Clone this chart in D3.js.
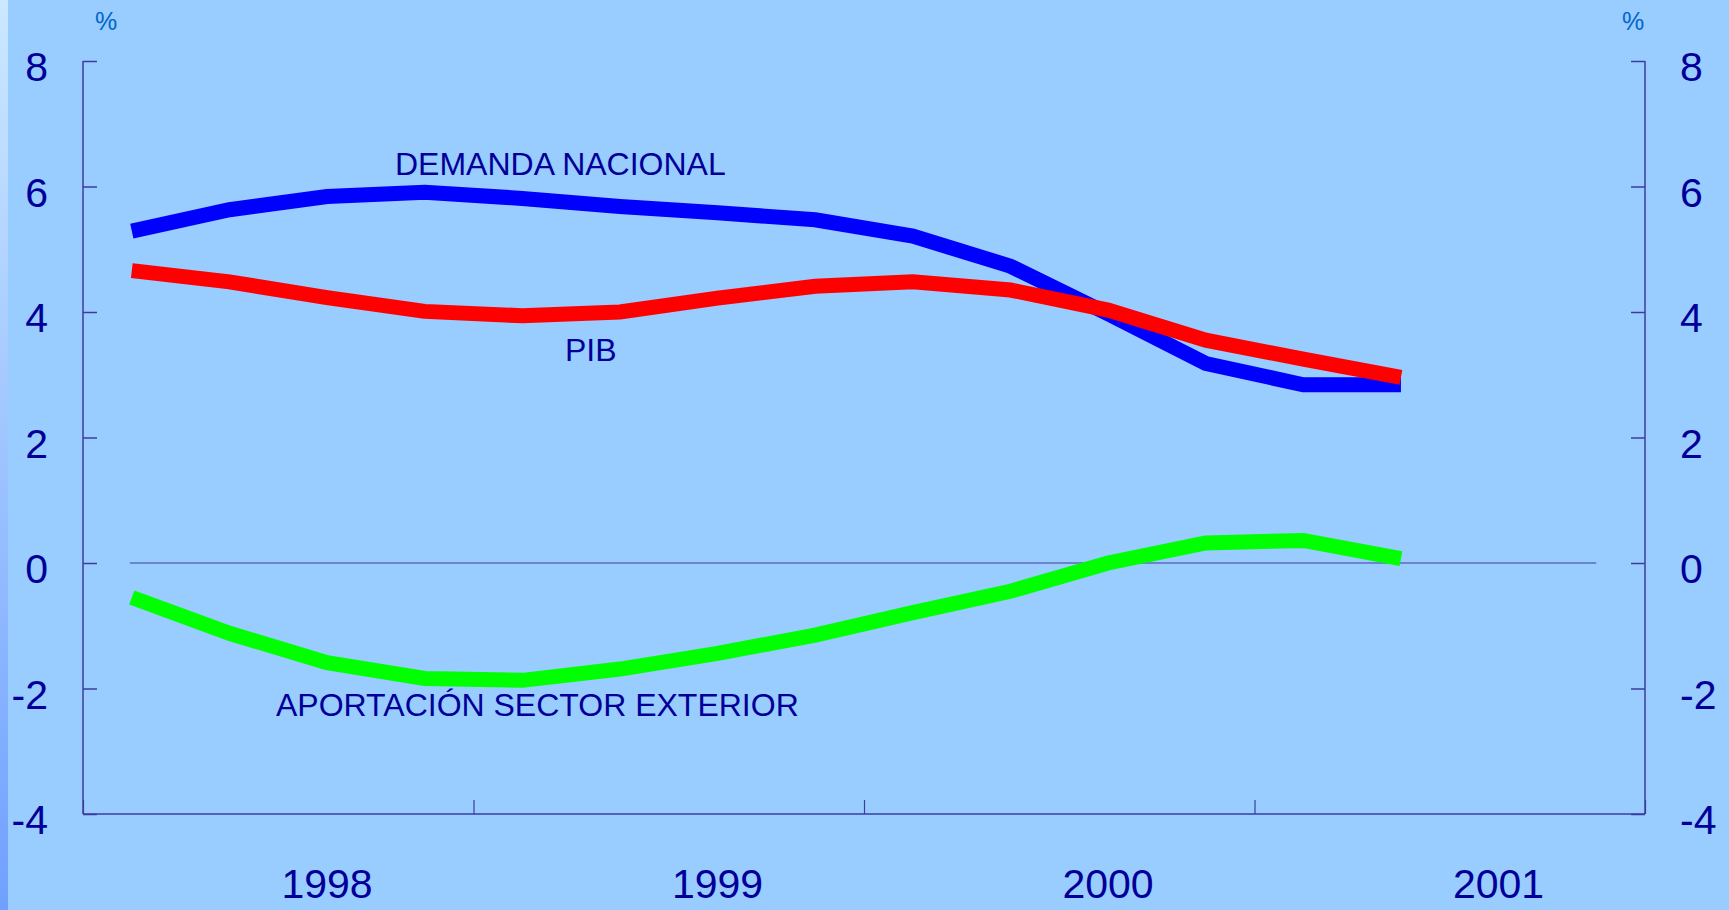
<!DOCTYPE html>
<html>
<head>
<meta charset="utf-8">
<script src="https://cdn.jsdelivr.net/npm/d3@7/dist/d3.min.js"></script>
<style>
    html, body {margin: 0; padding: 0; background: #99ccff; overflow: hidden;}
    svg {display: block;}
</style>
</head>
<body>
<svg id="chart"></svg>
<script>
// quarterly data, 1998 Q1 .. 2001 Q2
const quarters = ["1998-1", "1998-2", "1998-3", "1998-4", "1999-1", "1999-2", "1999-3", "1999-4",
    "2000-1", "2000-2", "2000-3", "2000-4", "2001-1", "2001-2"]
const demandaNacional = [5.29, 5.63, 5.84, 5.91, 5.81, 5.68, 5.58, 5.47, 5.21, 4.73, 3.97, 3.18, 2.84, 2.84]
const pib = [4.66, 4.48, 4.23, 4.01, 3.94, 4.00, 4.22, 4.41, 4.48, 4.35, 4.03, 3.55, 3.25, 2.96]
const sectorExterior = [-0.55, -1.12, -1.59, -1.84, -1.87, -1.69, -1.44, -1.15, -0.79, -0.45, 0.0, 0.32, 0.36, 0.07]
const years = [1998, 1999, 2000, 2001]
const yTicks = [-4, -2, 0, 2, 4, 6, 8]

const width = 1729, height = 910
const margin = ({top: 61, right: 84, bottom: 96, left: 83})
const axisColor = "#3c3ca0"
const textColor = "#000099"
const font = "'Liberation Sans', Arial, sans-serif"

const svg = d3.select("#chart")
    .attr("width", width)
    .attr("height", height)

// light strip on the left edge
const defs = svg.append("defs")
const grad = defs.append("linearGradient")
    .attr("id", "strip").attr("x1", 0).attr("y1", 0).attr("x2", 0).attr("y2", 1)
grad.append("stop").attr("offset", "0%").attr("stop-color", "#cce8ff")
grad.append("stop").attr("offset", "100%").attr("stop-color", "#70a0ff")

svg.append("rect").attr("width", width).attr("height", height).attr("fill", "#99ccff")
svg.append("rect").attr("width", 8).attr("height", height).attr("fill", "url(#strip)")

const x = d3.scaleLinear()
    .domain([1998, 2002])
    .range([margin.left, width - margin.right])
const y = d3.scaleLinear()
    .domain([-4, 8])
    .range([height - margin.bottom, margin.top])

const qx = q => {
    let [yr, n] = q.split("-").map(Number)
    return yr + (n - 0.5) / 4
}

// axes
svg.append("g")
    .attr("transform", `translate(${x(1998)},0)`)
    .call(d3.axisRight(y).tickValues(yTicks).tickSize(14).tickFormat(""))
    .call(g => g.select(".domain").attr("stroke", axisColor).attr("stroke-width", 1.5).attr("d", `M0,${y(8)}V${y(-4)}`))
    .call(g => g.selectAll(".tick line").attr("stroke", axisColor).attr("stroke-width", 1.5))

svg.append("g")
    .attr("transform", `translate(${x(2002)},0)`)
    .call(d3.axisLeft(y).tickValues(yTicks).tickSize(14).tickFormat(""))
    .call(g => g.select(".domain").attr("stroke", axisColor).attr("stroke-width", 1.5).attr("d", `M0,${y(8)}V${y(-4)}`))
    .call(g => g.selectAll(".tick line").attr("stroke", axisColor).attr("stroke-width", 1.5))

svg.append("g")
    .attr("transform", `translate(0,${y(-4)})`)
    .call(d3.axisTop(x).tickValues([1998, 1999, 2000, 2001, 2002]).tickSize(14).tickFormat(""))
    .call(g => g.select(".domain").attr("stroke", axisColor).attr("stroke-width", 1.5).attr("d", `M${x(1998)},0H${x(2002)}`))
    .call(g => g.selectAll(".tick line").attr("stroke", axisColor).attr("stroke-width", 1.2))

// zero line
svg.append("line")
    .attr("x1", x(1998.12)).attr("x2", x(2001.875))
    .attr("y1", y(0)).attr("y2", y(0))
    .attr("stroke", axisColor).attr("stroke-width", 1.2)

// tick labels
const labels = svg.append("g").attr("font-family", font).attr("fill", textColor).attr("font-size", 41)
labels.selectAll(".yl")
    .data(yTicks)
    .join("text")
    .attr("x", 48)
    .attr("y", d => y(d) + 20)
    .attr("text-anchor", "end")
    .text(d => d)
labels.selectAll(".yr")
    .data(yTicks)
    .join("text")
    .attr("x", 1680)
    .attr("y", d => y(d) + 20)
    .attr("text-anchor", "start")
    .text(d => d)
labels.selectAll(".xl")
    .data(years)
    .join("text")
    .attr("x", d => x(d + 0.625))
    .attr("y", 898)
    .attr("text-anchor", "middle")
    .text(d => d)

svg.append("g").attr("font-family", font).attr("fill", "#0066cc").attr("font-size", 25)
    .selectAll("text")
    .data([106, 1633])
    .join("text")
    .attr("x", d => d)
    .attr("y", 30)
    .attr("text-anchor", "middle")
    .text("%")

// series
const series = [
    {name: "DEMANDA NACIONAL", values: demandaNacional, color: "#0000ff"},
    {name: "PIB", values: pib, color: "#ff0000"},
    {name: "APORTACIÓN SECTOR EXTERIOR", values: sectorExterior, color: "#00ff00"}
]
const line = d3.line()
    .x((d, i) => x(qx(quarters[i])))
    .y(d => y(d))

svg.append("g")
    .selectAll("path")
    .data(series)
    .join("path")
    .attr("fill", "none")
    .attr("stroke", d => d.color)
    .attr("stroke-width", 15)
    .attr("stroke-linejoin", "miter")
    .attr("stroke-linecap", "butt")
    .attr("d", d => line(d.values))

// series labels
const seriesLabels = [
    {text: "DEMANDA NACIONAL", x: 395, y: 175},
    {text: "PIB", x: 565, y: 361},
    {text: "APORTACIÓN SECTOR EXTERIOR", x: 276, y: 716}
]
svg.append("g").attr("font-family", font).attr("fill", textColor).attr("font-size", 32)
    .selectAll("text")
    .data(seriesLabels)
    .join("text")
    .attr("x", d => d.x)
    .attr("y", d => d.y)
    .text(d => d.text)
</script>
</body>
</html>
